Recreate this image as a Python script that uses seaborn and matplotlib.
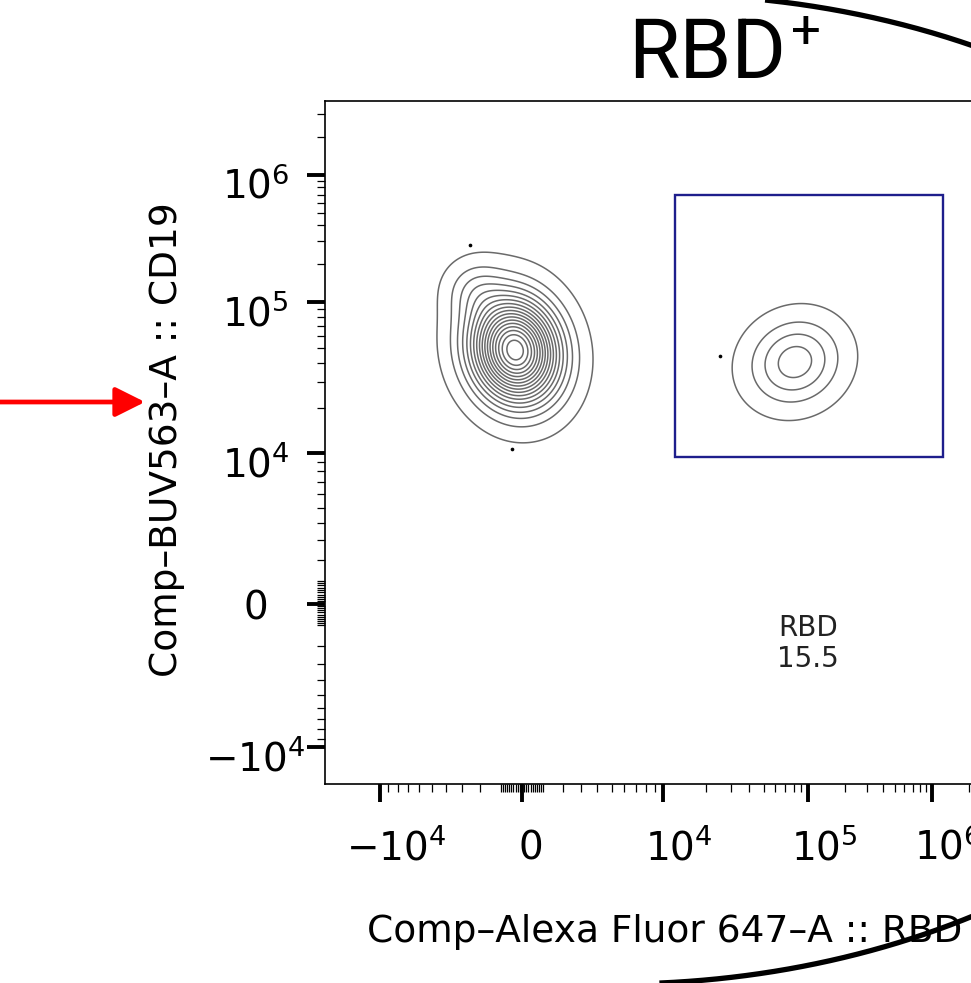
import numpy as np
import matplotlib
matplotlib.use("Agg")
import matplotlib.pyplot as plt
import seaborn as sns
from matplotlib import transforms
from matplotlib.patches import Rectangle
from matplotlib.lines import Line2D
from matplotlib.ticker import FixedLocator, FixedFormatter, NullFormatter

# =========================
# Data
# =========================

# populations (centre in channel units, spread in fraction of the axis)
pop_x = [-320, -2300, 8.15e4]
pop_y = [4.84e4, 1.25e5, 4.04e4]
pop_sx = [0.042, 0.028, 0.044]
pop_sy = [0.050, 0.028, 0.041]
pop_rho = [-0.10, 0.0, 0.10]
pop_share = [0.815, 0.03, 0.155]

# single events drawn as dots
out_x = [-2560, -464, 2.5e4]
out_y = [2.8e5, 1.06e4, 4.4e4]

# RBD gate
gate_x = [1.22e4, 1.23e6]
gate_y = [9.5e3, 6.93e5]
gate_name = "RBD"
gate_pct = 15.5

# biexponential display: anchor values and their place along each axis
biex_vals = [-1e5, -1e4, 0, 1e4, 1e5, 1e6, 1e7]
x_anchor = [-0.205, 0.0805, 0.2884, 0.4949, 0.7072, 0.8887, 1.0703]
y_anchor = [-0.235, 0.054, 0.264, 0.485, 0.706, 0.8917, 1.078]

major_vals = [-1e4, 0, 1e4, 1e5, 1e6]
major_labels = [r"$-10^{4}$", r"$0$", r"$10^{4}$", r"$10^{5}$", r"$10^{6}$"]

x_title = "Comp\u2013Alexa Fluor 647\u2013A :: RBD"
y_title = "Comp\u2013BUV563\u2013A :: CD19"
panel_title = "RBD"

# contour levels as share of the peak density
n_levels = 18
level_lo = 0.025
level_step = 0.055


# =========================
# Helpers
# =========================

C = 4000.0


def biex(anchor):
    u_a = np.arcsinh(np.asarray(biex_vals, float) / C)
    p_a = np.asarray(anchor, float)

    def fwd(v):
        return np.interp(np.arcsinh(np.asarray(v, float) / C), u_a, p_a)

    def inv(t):
        return C * np.sinh(np.interp(np.asarray(t, float), p_a, u_a))

    return fwd, inv


def minor_values():
    vals = [-2e4]
    vals += [-k * 1e3 for k in range(2, 10)]
    vals += [s * k * 100 for s in (-1, 1) for k in range(1, 11)]
    vals += [k * 1e3 for k in range(2, 10)]
    vals += [k * 1e4 for k in range(2, 10)]
    vals += [k * 1e5 for k in range(2, 10)]
    vals += [2e6, 3e6, 4e6]
    return vals


# =========================
# Style
# =========================

sns.set_style("ticks")
plt.rcParams["font.family"] = ["DejaVu Sans"]
plt.rcParams["mathtext.fontset"] = "dejavusans"
plt.rcParams["axes.linewidth"] = 1.2
for k in ("text.color", "axes.labelcolor", "xtick.color", "ytick.color", "axes.edgecolor"):
    plt.rcParams[k] = "black"

W, H = 971, 983
fig = plt.figure(figsize=(W / 100, H / 100), dpi=100)
fig.patch.set_facecolor("white")
ax = fig.add_axes([325 / W, (H - 784) / H, 683 / W, 683 / H])

fx, ix = biex(x_anchor)
fy, iy = biex(y_anchor)
ax.set_xscale("function", functions=(fx, ix))
ax.set_yscale("function", functions=(fy, iy))
ax.set_xlim(ix(0.0), ix(1.0))
ax.set_ylim(iy(0.0), iy(1.0))

# =========================
# Contours
# =========================

g = np.linspace(0, 1, 600)
GX, GY = np.meshgrid(g, g)
Z = np.zeros_like(GX)
for cx, cy, sx, sy, rho, w in zip(pop_x, pop_y, pop_sx, pop_sy, pop_rho, pop_share):
    dx = (GX - fx(cx)) / sx
    dy = (GY - fy(cy)) / sy
    q = (dx ** 2 - 2 * rho * dx * dy + dy ** 2) / (1 - rho ** 2)
    Z += w / (2 * np.pi * sx * sy * np.sqrt(1 - rho ** 2)) * np.exp(-q / 2)

levels = Z.max() * (level_lo + level_step * np.arange(n_levels))
ax.contour(ix(GX), iy(GY), Z, levels=levels, colors="#6a6a6a", linewidths=1.1)

sns.scatterplot(x=out_x, y=out_y, ax=ax, color="black", s=7, linewidth=0, legend=False)

ax.add_patch(Rectangle((gate_x[0], gate_y[0]), gate_x[1] - gate_x[0], gate_y[1] - gate_y[0],
                       fill=False, edgecolor="#1e1e8c", linewidth=1.7))
ax.text(0.707, 0.206, f"{gate_name}\n{gate_pct}", transform=ax.transAxes, ha="center",
        va="center", fontsize=20, linespacing=1.15, color="#222222")

# =========================
# Axes
# =========================

for axis in (ax.xaxis, ax.yaxis):
    axis.set_major_locator(FixedLocator(major_vals))
    axis.set_major_formatter(FixedFormatter(major_labels))
    axis.set_minor_locator(FixedLocator(minor_values()))
    axis.set_minor_formatter(NullFormatter())

ax.tick_params(which="major", length=13, width=2.8, direction="out", labelsize=28)
ax.tick_params(axis="x", which="major", pad=3)
ax.tick_params(axis="y", which="major", pad=37)
ax.tick_params(which="minor", length=6, width=0.9, direction="out")

for lab, val in zip(ax.get_xticklabels(), major_vals):
    dx_px = 8 if val == 0 else 16
    lab.set_transform(lab.get_transform()
                      + transforms.ScaledTranslation(dx_px / 100, -22 / 100, fig.dpi_scale_trans))
for lab, val in zip(ax.get_yticklabels(), major_vals):
    dy_px = 0 if val == 0 else -8
    lab.set_horizontalalignment("center")
    lab.set_transform(lab.get_transform()
                      + transforms.ScaledTranslation(0, dy_px / 100, fig.dpi_scale_trans))

ax.set_xlabel(x_title, fontsize=27)
ax.set_ylabel(y_title, fontsize=27)
ax.xaxis.set_label_coords(0.498, -0.19)
ax.yaxis.set_label_coords(-0.205, 0.504)

# =========================
# Annotations around the panel
# =========================

fig.text(628 / W, 1 - 78 / H, panel_title, fontsize=60, family="Roboto", ha="left", va="baseline")
fig.text(806 / W, 1 - 34 / H, "+", fontsize=38, family="Roboto", ha="center", va="center")

t_top = np.radians(np.linspace(40, 81.5, 200))
fig.add_artist(Line2D((660 + 711 * np.cos(t_top)) / W, (485.5 + 503 * np.sin(t_top)) / H,
                      transform=fig.transFigure, color="black", lw=3.8, solid_capstyle="butt"))
t_bot = np.radians(np.linspace(-86.5, -40, 200))
fig.add_artist(Line2D((616 + 711 * np.cos(t_bot)) / W, (502 + 503 * np.sin(t_bot)) / H,
                      transform=fig.transFigure, color="black", lw=3.8, solid_capstyle="butt"))

ax.annotate("", xy=(145 / W, 1 - 402 / H), xytext=(-0.01, 1 - 402 / H),
            xycoords="figure fraction", textcoords="figure fraction",
            arrowprops=dict(arrowstyle="-|>,head_length=1.0,head_width=0.5", color="#ff0000",
                            lw=3.4, mutation_scale=18, shrinkA=0, shrinkB=0))

fig.savefig("out.png", dpi=100)
